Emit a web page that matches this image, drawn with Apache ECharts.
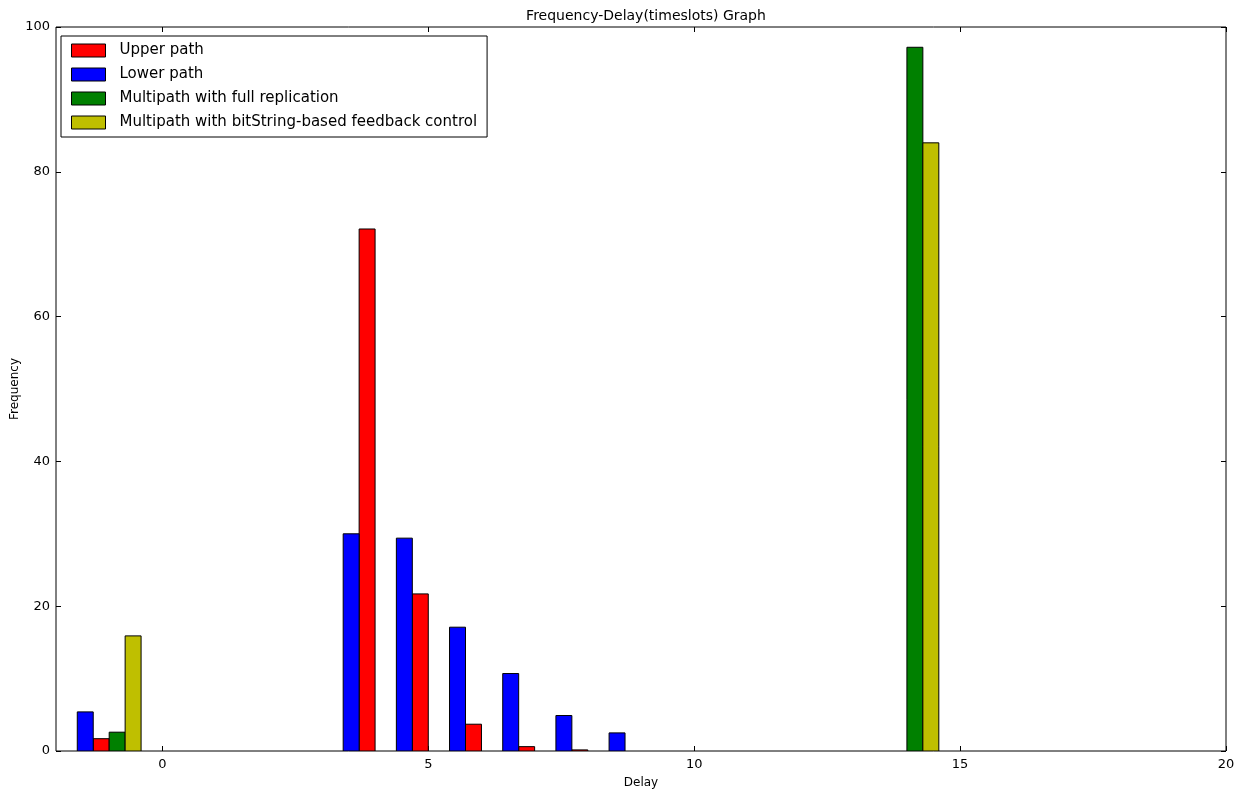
<!DOCTYPE html>
<html>
<head>
<meta charset="utf-8">
<script src="https://cdn.jsdelivr.net/npm/echarts@6/dist/echarts.min.js"></script>
<style>html,body{margin:0;padding:0;background:#fff;}#chart{width:1241px;height:789px;}</style>
</head>
<body>
<div id="chart"></div>
<script>
// Data (delay = centre of each bar group, frequency = bar height)
const seriesNames = ['Upper path', 'Lower path', 'Multipath with full replication', 'Multipath with bitString-based feedback control'];
const upperDelay = [-1, 4, 5, 6, 7, 8];
const upperFreq  = [1.7, 72.1, 21.7, 3.7, 0.6, 0.15];
const lowerDelay = [-1, 4, 5, 6, 7, 8, 9];
const lowerFreq  = [5.4, 30.0, 29.4, 17.1, 10.7, 4.9, 2.5];
const fullDelay  = [-1, 14];
const fullFreq   = [2.6, 97.2];
const bitDelay   = [-1, 14];
const bitFreq    = [15.9, 84.0];
const xTicks = [0, 5, 10, 15, 20];
const yTicks = [0, 20, 40, 60, 80, 100];

const FONT = 'DejaVu Sans';
const barW = 0.3;
const colors = ['#ff0000', '#0000ff', '#008000', '#bfbf00'];
const offsets = [-0.3, -0.6, 0.0, 0.3];

function pairs(xs, ys) { return xs.map((x, i) => [x, ys[i]]); }
const datasets = [pairs(upperDelay, upperFreq), pairs(lowerDelay, lowerFreq), pairs(fullDelay, fullFreq), pairs(bitDelay, bitFreq)];

function makeRender(off) {
  return function (params, api) {
    const d = api.value(0), v = api.value(1);
    const p0 = api.coord([d + off, v]);
    const p1 = api.coord([d + off + barW, 0]);
    return {
      type: 'rect',
      shape: { x: p0[0], y: p0[1], width: p1[0] - p0[0], height: p1[1] - p0[1] },
      style: { fill: api.visual('color'), stroke: '#000', lineWidth: 1 }
    };
  };
}

const chart = echarts.init(document.getElementById('chart'), null, { renderer: 'canvas' });
const axisTickStyle = { show: true, inside: true, length: 5, lineStyle: { color: '#000', width: 1 } };
const noLine = { show: false, onZero: false };
const option = {
  backgroundColor: '#fff',
  animation: false,
  title: {
    text: 'Frequency-Delay(timeslots) Graph',
    left: 641, top: 4, textAlign: 'center',
    textStyle: { fontFamily: FONT, fontSize: 14, fontWeight: 'normal', color: '#000' }
  },
  legend: {
    orient: 'vertical',
    left: 61, top: 36,
    padding: [6, 10, 6, 10],
    backgroundColor: '#fff',
    borderColor: '#000', borderWidth: 1, borderRadius: 0,
    itemWidth: 34, itemHeight: 13, itemGap: 7,
    icon: 'rect',
    textStyle: { fontFamily: FONT, fontSize: 15, lineHeight: 17, color: '#000', padding: [0, 0, 0, 9] },
    data: seriesNames.map((n, i) => ({ name: n, itemStyle: { color: colors[i], borderColor: '#000', borderWidth: 1 } }))
  },
  grid: {
    left: 56, right: 15, top: 27, bottom: 38,
    outerBoundsMode: 'none', containLabel: false,
    show: true, borderColor: '#000', borderWidth: 1, backgroundColor: 'transparent'
  },
  xAxis: [
    {
      type: 'value', min: -2, max: 20, position: 'bottom',
      name: 'Delay', nameLocation: 'middle', nameGap: 26, nameMoveOverlap: false,
      nameTextStyle: { fontFamily: FONT, fontSize: 12, color: '#000' },
      axisLine: noLine,
      splitLine: { show: false },
      axisTick: Object.assign({ customValues: xTicks }, axisTickStyle),
      axisLabel: { customValues: xTicks, fontFamily: FONT, fontSize: 13, color: '#000', margin: 7 }
    },
    {
      type: 'value', min: -2, max: 20, position: 'top',
      axisLine: noLine, splitLine: { show: false },
      axisTick: Object.assign({ customValues: xTicks }, axisTickStyle),
      axisLabel: { show: false, customValues: xTicks }
    }
  ],
  yAxis: [
    {
      type: 'value', min: 0, max: 100, interval: 20, position: 'left',
      name: 'Frequency', nameLocation: 'middle', nameGap: 35, nameRotate: 90, nameMoveOverlap: false,
      nameTextStyle: { fontFamily: FONT, fontSize: 12, color: '#000' },
      axisLine: noLine, splitLine: { show: false },
      axisTick: Object.assign({ customValues: yTicks }, axisTickStyle),
      axisLabel: { customValues: yTicks, fontFamily: FONT, fontSize: 13, color: '#000', margin: 6 }
    },
    {
      type: 'value', min: 0, max: 100, interval: 20, position: 'right',
      axisLine: noLine, splitLine: { show: false },
      axisTick: Object.assign({ customValues: yTicks }, axisTickStyle),
      axisLabel: { show: false, customValues: yTicks }
    }
  ],
  series: seriesNames.map((n, i) => ({
    name: n,
    type: 'custom',
    xAxisIndex: 0, yAxisIndex: 0,
    itemStyle: { color: colors[i] },
    renderItem: makeRender(offsets[i]),
    encode: { x: 0, y: 1 },
    clip: true,
    data: datasets[i]
  }))
};
chart.setOption(option);
</script>
</body>
</html>
